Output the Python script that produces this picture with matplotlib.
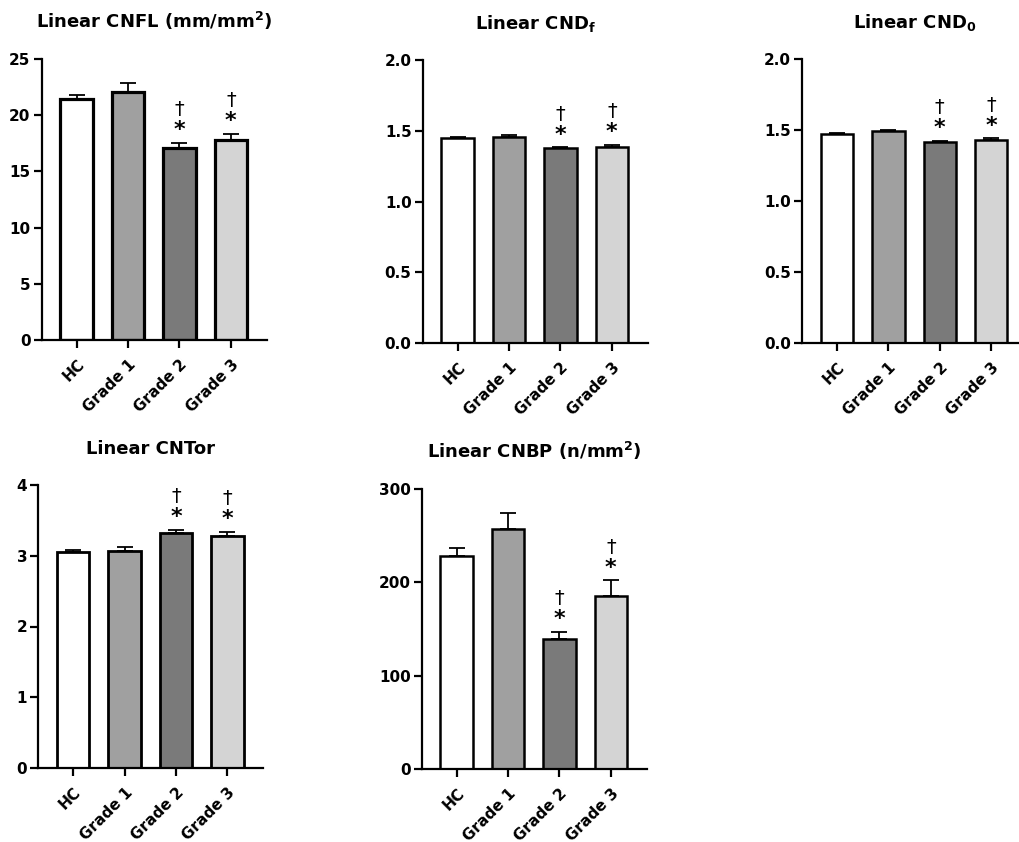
import matplotlib
matplotlib.use("Agg")
import matplotlib.pyplot as plt

plt.rcParams['font.family'] = ['DejaVu Sans']
plt.rcParams['font.weight'] = 'bold'
plt.rcParams['mathtext.fontset'] = 'custom'
plt.rcParams['mathtext.rm'] = 'DejaVu Sans:bold'
plt.rcParams['mathtext.it'] = 'DejaVu Sans:bold'
plt.rcParams['mathtext.bf'] = 'DejaVu Sans:bold'
plt.rcParams['mathtext.default'] = 'rm'

groups = ["HC", "Grade 1", "Grade 2", "Grade 3"]
bar_colors = ["#ffffff", "#a0a0a0", "#7a7a7a", "#d4d4d4"]

cnfl_mean = [21.4, 22.03, 17.07, 17.76]
cnfl_err = [0.36, 0.87, 0.45, 0.60]

cndf_mean = [1.448, 1.455, 1.375, 1.387]
cndf_err = [0.007, 0.013, 0.007, 0.012]

cnd0_mean = [1.472, 1.490, 1.418, 1.432]
cnd0_err = [0.007, 0.010, 0.007, 0.009]

cntor_mean = [3.047, 3.066, 3.325, 3.283]
cntor_err = [0.028, 0.052, 0.043, 0.052]

cnbp_mean = [227.9, 256.8, 139.6, 185.7]
cnbp_err = [8.5, 17.5, 7.2, 16.4]

sig_flags = [False, False, True, True]

panels = [
    dict(title="Linear CNFL (mm/mm$^2$)", mean=cnfl_mean, err=cnfl_err,
         ylim=(0, 25), yticks=[0, 5, 10, 15, 20, 25], fmt="{:g}",
         px=(41.7, 59, 340), lw=2.3),
    dict(title="Linear CND$_\\mathregular{f}$", mean=cndf_mean, err=cndf_err,
         ylim=(0, 2.0), yticks=[0, 0.5, 1.0, 1.5, 2.0], fmt="{:.1f}",
         px=(422.7, 60, 343), lw=1.8),
    dict(title="Linear CND$_\\mathregular{0}$", mean=cnd0_mean, err=cnd0_err,
         ylim=(0, 2.0), yticks=[0, 0.5, 1.0, 1.5, 2.0], fmt="{:.1f}",
         px=(802, 59, 343), lw=1.8),
    dict(title="Linear CNTor", mean=cntor_mean, err=cntor_err,
         ylim=(0, 4), yticks=[0, 1, 2, 3, 4], fmt="{:g}",
         px=(38.3, 485, 768), lw=2.0),
    dict(title="Linear CNBP (n/mm$^2$)", mean=cnbp_mean, err=cnbp_err,
         ylim=(0, 300), yticks=[0, 100, 200, 300], fmt="{:g}",
         px=(421.7, 489, 769), lw=1.8),
]

W, H = 1020, 842
fig = plt.figure(figsize=(W / 100, H / 100), dpi=100)

xlo, xhi = -0.68, 3.70
unit_px = 51.4

for p in panels:
    left_px, top_px, bot_px = p["px"]
    width_px = (xhi - xlo) * unit_px
    ax = fig.add_axes([left_px / W, 1 - bot_px / H, width_px / W, (bot_px - top_px) / H])
    x = list(range(len(groups)))
    ax.errorbar(x, p["mean"], yerr=[[0] * 4, p["err"]], fmt='none', ecolor='black',
                elinewidth=1.3, capsize=5.8, capthick=1.3, zorder=1)
    ax.bar(x, p["mean"], width=0.63, color=bar_colors, edgecolor='black',
           linewidth=p["lw"], zorder=2)
    ax.set_xlim(xlo, xhi)
    ax.set_ylim(*p["ylim"])
    ax.set_yticks(p["yticks"])
    ax.set_yticklabels([p["fmt"].format(v) for v in p["yticks"]], fontsize=11, fontweight='bold')
    ax.set_xticks(x)
    ax.set_xticklabels(groups, rotation=45, ha='right', rotation_mode='anchor',
                       fontsize=11, fontweight='bold')
    for s in ['top', 'right']:
        ax.spines[s].set_visible(False)
    for s in ['left', 'bottom']:
        ax.spines[s].set_linewidth(1.6)
    ax.tick_params(axis='both', direction='out', length=6, width=1.6, pad=2)
    ax.tick_params(axis='x', pad=6)
    ax.set_title(p["title"], fontsize=13, fontweight='bold', pad=22)
    for xi, m, e, sig in zip(x, p["mean"], p["err"], sig_flags):
        if sig:
            ax.annotate("*", xy=(xi, m + e), xytext=(0, 2), textcoords='offset points',
                        ha='center', va='bottom', fontsize=16, fontweight='bold')
            ax.annotate("\u2020", xy=(xi, m + e), xytext=(0, 17), textcoords='offset points',
                        ha='center', va='bottom', fontsize=14, fontweight='normal')

fig.savefig("out.png", dpi=100)
